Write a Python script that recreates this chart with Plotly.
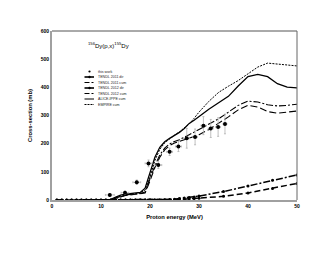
import plotly.graph_objects as go

# ---------------- data ----------------
E_exp = [11.8, 14.9, 17.3, 19.7, 21.7, 24.0, 25.8, 27.5, 29.2, 30.9, 32.4, 33.9, 35.3]
sig_exp = [18, 26, 63, 130, 124, 171, 190, 219, 224, 264, 254, 259, 270]
dsig_exp = [5, 6, 8, 12, 12, 13, 18, 35, 28, 32, 32, 33, 35]
dE_exp = [0.9, 0.8, 0.8, 0.7, 0.7, 0.6, 0.6, 0.6, 0.5, 0.5, 0.5, 0.5, 0.4]

E_tdir = list(range(1, 31)) + [35, 40, 45, 50]
t11_dir = [0] * 23 + [1, 1, 2, 3, 4, 5, 6, 13, 25, 41, 59]
t12_dir = [0] * 22 + [1, 2, 3, 5, 7, 9, 11, 14, 30, 50, 70, 89]

E_cum = [10, 11, 12, 13, 14, 15, 16, 17, 18, 19, 20, 21, 22, 23, 24, 25, 26, 27, 28, 29, 30,
         32, 34, 36, 38, 40, 42, 44, 46, 48, 50]
t11_cum = [0, 0, 1, 6, 12, 16, 18, 20, 21, 25, 68, 115, 152, 178, 193, 202, 208, 215, 220, 225, 232,
           250, 272, 295, 320, 336, 330, 314, 308, 311, 316]
t12_cum = [0, 0, 2, 8, 14, 18, 20, 22, 23, 28, 75, 122, 160, 184, 199, 208, 214, 222, 232, 241, 250,
           268, 288, 312, 336, 351, 348, 338, 334, 336, 340]
alice_cum = [0, 0, 2, 10, 17, 21, 23, 25, 27, 42, 98, 152, 187, 207, 219, 229, 240, 254, 272, 283, 297,
             322, 345, 368, 405, 438, 446, 438, 413, 401, 398]
empire_cum = [0, 0, 0, 5, 12, 17, 20, 22, 25, 35, 82, 140, 180, 203, 218, 230, 242, 255, 270, 290, 312,
              350, 382, 404, 424, 448, 472, 486, 482, 479, 476]

x_ticks = [0, 10, 20, 30, 40, 50]
y_ticks = [0, 100, 200, 300, 400, 500, 600]

FONT = "Liberation Sans, Arial, sans-serif"

# page body has an 8px margin: figure starts at (8, 8) in the window
OFF = 8
PL, PR, PT, PB = 52, 297, 31, 200   # plot area in window pixels
W, H = 314, 240

fig = go.Figure()

fig.add_trace(go.Scatter(x=E_cum, y=empire_cum, mode="lines", name="EMPIRE cum",
                         line=dict(color="black", width=1, dash="2px,1.2px")))
fig.add_trace(go.Scatter(x=E_cum, y=alice_cum, mode="lines", name="ALICE-IPPE cum",
                         line=dict(color="black", width=1.3)))
fig.add_trace(go.Scatter(x=E_cum, y=t12_cum, mode="lines", name="TENDL 2012 cum",
                         line=dict(color="black", width=1.1, dash="7px,2px,2px,2px")))
fig.add_trace(go.Scatter(x=E_cum, y=t11_cum, mode="lines", name="TENDL 2011 cum",
                         line=dict(color="black", width=1.1, dash="7px,3px")))
fig.add_trace(go.Scatter(x=E_tdir, y=t12_dir, mode="lines+markers", name="TENDL 2012 dir",
                         line=dict(color="black", width=1.5, dash="7px,2px,2px,2px"),
                         marker=dict(color="black", size=3)))
fig.add_trace(go.Scatter(x=E_tdir, y=t11_dir, mode="lines+markers", name="TENDL 2011 dir",
                         line=dict(color="black", width=1.5, dash="6px,3px"),
                         marker=dict(color="black", size=3)))
fig.add_trace(go.Scatter(x=E_exp, y=sig_exp, mode="markers", name="this work",
                         marker=dict(color="black", size=4),
                         error_y=dict(type="data", array=dsig_exp, color="#b0b0b0", thickness=0.8, width=1),
                         error_x=dict(type="data", array=dE_exp, color="#b0b0b0", thickness=0.8, width=1)))

fig.update_layout(
    width=W, height=H,
    margin=dict(l=PL - OFF, r=W - (PR - OFF), t=PT - OFF, b=H - (PB - OFF), autoexpand=False),
    paper_bgcolor="white", plot_bgcolor="white",
    showlegend=False,
    font=dict(family=FONT, color="black"),
)
fig.update_xaxes(range=[0, 50], tickvals=x_ticks, ticktext=[f"<b>{v}</b>" for v in x_ticks],
                 tickfont=dict(size=5, color="black"), showgrid=False, zeroline=False, showline=True,
                 linecolor="#a0a0a0", linewidth=2, ticks="", ticklen=0,
                 title=dict(text="<b>Proton energy (MeV)</b>", font=dict(size=5.8, color="black"), standoff=7))
fig.update_yaxes(range=[0, 600], tickvals=y_ticks, ticktext=[f"<b>{v}</b>" for v in y_ticks],
                 tickfont=dict(size=5, color="black"), showgrid=False, zeroline=False, showline=True,
                 linecolor="#a0a0a0", linewidth=2, ticks="", ticklen=0,
                 title=dict(text="<b>Cross-section (mb)</b>", font=dict(size=5.8, color="black"), standoff=8))

# top/right frame
fig.add_shape(type="line", xref="paper", yref="paper", x0=0, x1=1, y0=1, y1=1,
              line=dict(color="#555", width=1))
fig.add_shape(type="line", xref="paper", yref="paper", x0=1, x1=1, y0=0, y1=1,
              line=dict(color="#666", width=1))

px2x = lambda p: (p - PL) / (PR - PL)
px2y = lambda p: (PB - p) / (PB - PT)

# title
fig.add_annotation(text="<sup>156</sup>Dy(p,x)<sup>155</sup>Dy", xref="paper", yref="paper",
                   x=px2x(86), y=px2y(45), xanchor="left", yanchor="middle",
                   showarrow=False, font=dict(size=6, family=FONT, color="black"))

# manual compact legend
legend_items = [
    ("this work", None, None, True),
    ("TENDL 2011 dir", "solid", 1.6, True),
    ("TENDL 2011 cum", "5px,2px,2px,2px", 1, False),
    ("TENDL 2012 dir", "solid", 1.6, True),
    ("TENDL 2012 cum", "5px,2px,2px,2px", 1, False),
    ("ALICE-IPPE cum", "solid", 1, False),
    ("EMPIRE cum", "2px,1px", 1, False),
]
for i, (name, dash, w, mk) in enumerate(legend_items):
    yp = 71.5 + 5.5 * i
    if dash is not None:
        fig.add_shape(type="line", xref="paper", yref="paper",
                      x0=px2x(84.5), x1=px2x(94), y0=px2y(yp), y1=px2y(yp),
                      line=dict(color="black", width=w, dash=dash))
    if mk:
        r = 1.1 if dash is None else 1.2
        fig.add_shape(type="circle", xref="paper", yref="paper",
                      x0=px2x(89.5 - r), x1=px2x(89.5 + r), y0=px2y(yp - r), y1=px2y(yp + r),
                      fillcolor="black", line=dict(color="black", width=0))
    fig.add_annotation(text=name, xref="paper", yref="paper", x=px2x(96), y=px2y(yp),
                       xanchor="left", yanchor="middle", showarrow=False,
                       font=dict(size=3.6, family=FONT, color="#222"))

fig.write_html("out.html")
